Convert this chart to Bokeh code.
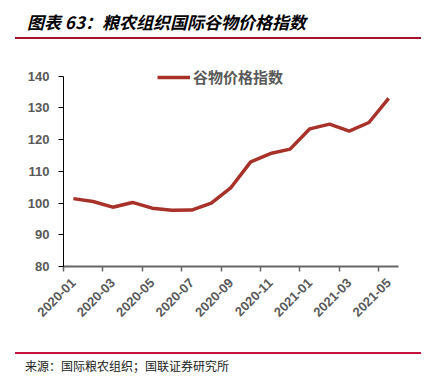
import numpy as np
from bokeh.plotting import figure
from bokeh.models import Range1d, FixedTicker, Div
from bokeh.layouts import column
from bokeh.embed import file_html
from bokeh.resources import INLINE

months = ["2020-01", "2020-02", "2020-03", "2020-04", "2020-05", "2020-06",
          "2020-07", "2020-08", "2020-09", "2020-10", "2020-11", "2020-12",
          "2021-01", "2021-02", "2021-03", "2021-04", "2021-05"]
values = [101.4, 100.5, 98.7, 100.2, 98.4, 97.7, 97.8, 100.0, 104.9, 113.0,
          115.6, 117.0, 123.4, 124.9, 122.7, 125.4, 133.0]
y_ticks = [80, 90, 100, 110, 120, 130, 140]
series_name = "谷物价格指数"
title_text = "图表 63：粮农组织国际谷物价格指数"
source_text = "来源：国际粮农组织；国联证券研究所"

n = len(months)
xs = np.arange(n) + 0.5

p = figure(width=426, height=296, output_backend="svg", toolbar_location=None,
           x_range=Range1d(0, n), y_range=Range1d(80, 144),
           min_border_left=63, min_border_right=28, min_border_top=24,
           min_border_bottom=69)
p.outline_line_color = None
p.grid.visible = False
p.background_fill_color = "white"

p.line(xs, values, line_color="#A8322A", line_width=3.5, legend_label=series_name)

label_pos = [i + 0.5 for i in range(0, n, 2)]
p.xaxis.ticker = FixedTicker(ticks=label_pos, minor_ticks=[float(i) for i in range(0, n, 2)])
p.xaxis.major_label_overrides = {i + 0.5: months[i] for i in range(0, n, 2)}
p.xaxis.major_label_orientation = np.pi / 4
p.xaxis.major_tick_line_alpha = 0
p.xaxis.major_tick_out = 0
p.xaxis.major_tick_in = 0
p.xaxis.minor_tick_out = 5
p.xaxis.minor_tick_in = 0
p.xaxis.minor_tick_line_color = "#666666"
p.xaxis.minor_tick_line_width = 1.5
p.xaxis.axis_line_color = "#666666"
p.xaxis.axis_line_width = 2
p.xaxis.major_label_standoff = 9

p.yaxis.ticker = FixedTicker(ticks=y_ticks)
p.yaxis.bounds = (80, 140)
p.yaxis.minor_tick_line_color = None
p.yaxis.major_tick_out = 5
p.yaxis.major_tick_in = 0
p.yaxis.axis_line_color = "black"
p.yaxis.major_tick_line_color = "black"
p.yaxis.major_label_standoff = 9

for ax in (p.xaxis, p.yaxis):
    ax.major_label_text_font = "Liberation Sans"
    ax.major_label_text_font_style = "bold"
    ax.major_label_text_font_size = "13px"
    ax.major_label_text_color = "#595959"

lg = p.legend[0]
lg.location = (94, 179)
lg.padding = 0
lg.margin = 0
lg.spacing = 0
lg.glyph_width = 33
lg.glyph_height = 20
lg.label_standoff = 3
lg.border_line_alpha = 0
lg.background_fill_alpha = 0
lg.label_text_font = "Noto Sans CJK SC"
lg.label_text_font_style = "bold"
lg.label_text_font_size = "15px"
lg.label_text_color = "#595959"

# thin red rule above the title, drawn as a tiny empty canvas
rule = figure(width=406, height=2, output_backend="svg", toolbar_location=None,
              x_axis_type=None, y_axis_type=None, min_border=0,
              margin=(5, 0, 0, 15))
rule.outline_line_color = None
rule.grid.visible = False
rule.background_fill_color = "#A8102E"
rule.border_fill_color = "#A8102E"

top = Div(text=(
    '<div style="box-sizing:border-box;width:406px;height:32px;'
    'border-bottom:2px solid #A8102E;'
    'padding-left:12px;font-family:\'Noto Sans CJK SC\';font-weight:bold;'
    'font-style:italic;font-size:17px;line-height:30px;color:#000;white-space:nowrap;">'
    + title_text + '</div>'), width=406, height=32, margin=(0, 0, 0, 15))

bottom = Div(text=(
    '<div style="box-sizing:border-box;width:406px;margin-top:17px;'
    'border-top:2px solid #C8143C;padding-top:4px;padding-left:10px;'
    'font-family:\'Noto Sans CJK SC\';font-size:12px;line-height:16px;color:#222;white-space:nowrap;">'
    + source_text + '</div>'), width=406, height=36, margin=(0, 0, 0, 15))

layout = column(rule, top, p, bottom, spacing=0)
open("out.html", "w").write(file_html(layout, INLINE))
